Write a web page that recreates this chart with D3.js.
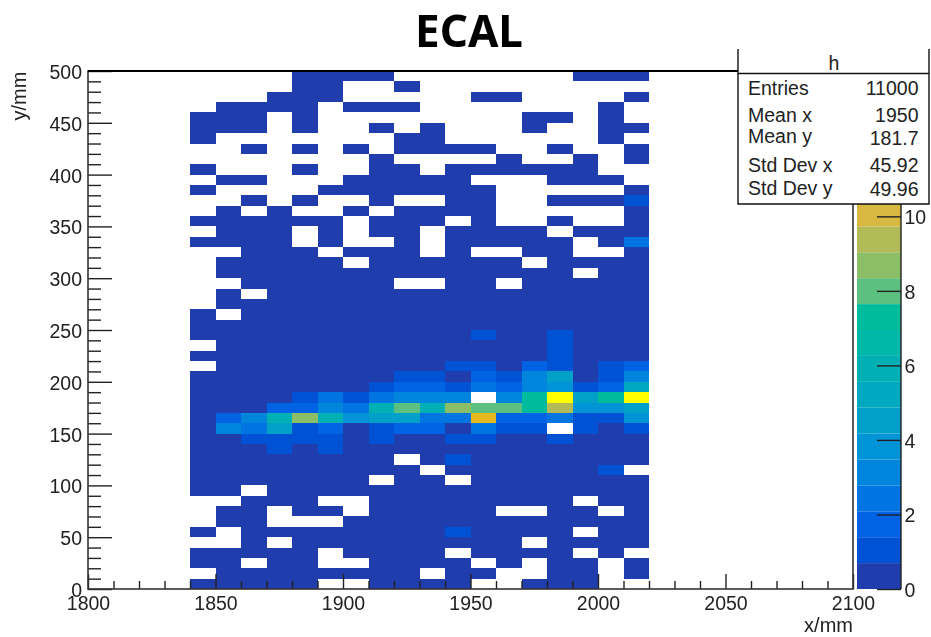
<!DOCTYPE html>
<html><head><meta charset="utf-8">
<script src="https://cdn.jsdelivr.net/npm/d3@7/dist/d3.min.js"></script>
<style>
html,body{margin:0;padding:0;background:#fff;overflow:hidden}
svg{display:block;filter:blur(0.45px)}
text{font-family:"Liberation Sans",sans-serif;fill:#222}
</style></head><body>
<svg id="c" width="931" height="637"></svg>
<script>
const _ = null;
const xEdges = [1840,1850,1860,1870,1880,1890,1900,1910,1920,1930,1940,1950,1960,1970,1980,1990,2000,2010];
const yBinsTop = [490,480,470,460,450,440,430,420,410,400,390,380,370,360,350,340,330,320,310,300,290,280,270,260,250,240,230,220,210,200,190,180,170,160,150,140,130,120,110,100,90,80,70,60,50,40,30,20,10,0];
const rowsUpper = [
[_,_,_,_,.5,.5,.5,.5,_,_,_,_,_,_,_,.5,.5,.5],
[_,_,_,_,.5,.5,_,_,.5,_,_,_,_,_,_,_,_,_],
[_,_,_,.5,.5,.5,_,_,_,_,_,.5,.5,_,_,_,_,.5],
[_,.5,.5,.5,.5,_,.5,.5,.5,_,_,_,_,_,_,_,.5,_],
[.5,.5,.5,_,.5,_,_,_,_,_,_,_,_,.5,.5,_,.5,_],
[.5,.5,.5,_,.5,_,_,.5,_,.5,_,_,_,.5,_,_,.5,.5],
[.5,_,_,_,_,_,_,_,.5,.5,_,_,_,_,_,_,.5,_],
[_,_,.5,_,.5,_,.5,_,.5,.5,.5,.5,_,_,.5,_,_,.5],
[_,_,_,_,_,_,_,.5,_,_,_,_,.5,_,_,.5,_,.5],
[.5,_,_,_,.5,_,_,.5,.5,_,.5,.5,.5,.5,.5,.5,_,_],
[_,.5,.5,_,_,_,.5,.5,.5,.5,.5,_,_,_,.5,.5,.5,_],
[.5,_,_,_,_,.5,.5,.5,.5,.5,.5,.5,_,_,_,_,_,.5],
[_,_,.5,_,.5,_,_,.5,_,_,.5,.5,_,_,.5,.5,.5,1],
[_,.5,_,.5,_,_,.5,_,.5,.5,.5,.5,_,_,_,_,_,.5],
[.5,.5,.5,.5,.5,.5,_,.5,.5,.5,_,.5,_,_,.5,_,_,.5],
[_,.5,.5,.5,_,.5,_,.5,.5,_,.5,.5,.5,.5,_,.5,.5,.5],
[.5,.5,.5,.5,_,.5,_,_,.5,_,.5,.5,.5,.5,.5,_,.5,2.5],
[_,_,.5,.5,.5,_,.5,.5,.5,_,.5,_,_,.5,.5,_,_,.5],
[_,.5,.5,.5,.5,.5,_,.5,.5,.5,.5,.5,.5,_,.5,.5,.5,.5],
[_,.5,.5,.5,.5,.5,.5,.5,.5,.5,.5,.5,.5,.5,.5,_,.5,.5],
[_,_,.5,.5,.5,.5,.5,.5,_,_,.5,.5,_,.5,.5,.5,.5,.5],
[_,.5,_,.5,.5,.5,.5,.5,.5,.5,.5,.5,.5,.5,.5,.5,.5,.5],
[_,.5,.5,.5,.5,.5,.5,.5,.5,.5,.5,.5,.5,.5,.5,.5,.5,.5],
[.5,_,.5,.5,.5,.5,.5,.5,.5,.5,.5,.5,.5,.5,.5,.5,.5,.5],
[.5,.5,.5,.5,.5,.5,.5,.5,.5,.5,.5,.5,.5,.5,.5,.5,.5,.5]
];
const rowsPeak = [
[.5,.5,.5,.5,.5,.5,.5,.5,.5,.5,.5,1,.5,.5,1,.5,.5,.5],
[_,.5,.5,.5,.5,.5,.5,.5,.5,.5,.5,.5,.5,.5,1,.5,.5,.5],
[.5,.5,.5,.5,.5,.5,.5,.5,.5,.5,.5,.5,.5,.5,1,.5,.5,.5],
[_,.5,.5,.5,.5,.5,.5,.5,.5,.5,1,1,.5,2,1,.5,1,2],
[.5,.5,.5,.5,.5,.5,.5,.5,1,1,.5,2,1,3,4.5,.5,1,3],
[.5,.5,.5,.5,.5,.5,.5,1,2,2,1,2.5,2,3,4,1,2,5],
[.5,.5,.5,.5,1,2.5,1,2.5,3,3,3,_,3,7,13.5,4.5,7,13.5],
[.5,.5,.5,2,2,3,2.5,6,8,6,9,8,8,7,9.5,4,4,4.5],
[.5,2,3,6,9,6,4,4.5,4.5,2.5,2.5,11,2,2,2.5,1,1,4],
[.5,3,2.5,4.5,1,2,.5,1,2,2,.5,2.5,1,1,_,1,.5,1],
[.5,.5,1,1,1,1,.5,1,.5,.5,1,1,.5,.5,1,.5,.5,.5],
[.5,.5,.5,1,.5,1,.5,.5,.5,.5,.5,.5,.5,.5,.5,.5,.5,.5]
];
const rowsLower = [
[.5,.5,.5,.5,.5,.5,.5,.5,_,.5,1,.5,.5,.5,.5,.5,.5,.5],
[.5,.5,.5,.5,.5,.5,.5,.5,.5,_,.5,.5,.5,.5,.5,.5,1,_],
[.5,.5,.5,.5,.5,.5,.5,_,.5,.5,_,.5,.5,.5,.5,.5,.5,.5],
[.5,.5,_,.5,.5,.5,.5,.5,.5,.5,.5,.5,.5,.5,.5,.5,.5,.5],
[_,_,.5,.5,.5,_,_,.5,.5,.5,.5,.5,.5,.5,.5,_,.5,.5],
[_,.5,.5,_,.5,.5,_,.5,.5,.5,.5,.5,_,_,.5,.5,_,.5],
[_,.5,.5,_,_,_,.5,.5,.5,.5,.5,.5,.5,.5,.5,.5,.5,.5],
[.5,_,.5,.5,.5,.5,.5,.5,.5,.5,1,.5,.5,.5,.5,_,.5,.5],
[_,_,.5,_,.5,.5,.5,.5,.5,.5,.5,.5,.5,_,.5,.5,.5,.5],
[.5,.5,.5,.5,.5,_,.5,.5,.5,.5,_,.5,.5,.5,.5,_,.5,_],
[.5,.5,_,.5,.5,_,_,.5,.5,.5,.5,_,.5,_,.5,.5,_,.5],
[_,.5,.5,.5,.5,.5,.5,.5,.5,_,.5,.5,_,_,.5,.5,_,.5],
[.5,.5,.5,.5,.5,_,_,.5,.5,.5,.5,_,_,.5,.5,.5,_,_]
];
const cellRows = [...rowsUpper, ...rowsPeak, ...rowsLower];
const paletteColors = ["#1f3dac","#0052d4","#0063e4","#0074e0","#0085dc","#0094d6","#00a0c8","#00a8c0","#00b0b4","#00b8a8","#00bc9c","#5cc080","#8cbe68","#b2bb58","#d8b840","#e8b820","#f0c418","#f8d410","#fce800","#ffff00"];
const xMajor = [1800,1850,1900,1950,2000,2050,2100];
const yMajor = [0,50,100,150,200,250,300,350,400,450,500];
const zTicks = [0,2,4,6,8,10];
const zMax = 13.9;
const statLabels = ["Entries","Mean x","Mean y","Std Dev x","Std Dev y"];
const statValues = ["11000","1950","181.7","45.92","49.96"];
const title = "ECAL";

const svg = d3.select("#c");
const L=88,R=853,T=71,B=589;
const x = d3.scaleLinear().domain([1800,2100]).range([L,R]);
const y = d3.scaleLinear().domain([0,500]).range([B,T]);
const z = d3.scaleLinear().domain([0,zMax]).range([B,T]);
const color = d3.scaleQuantize().domain([0,zMax]).range(paletteColors);

// cells
const cells = cellRows.flatMap((r,i)=>r.map((v,j)=>({v,x0:xEdges[j],y0:yBinsTop[i]}))).filter(d=>d.v!==null);
svg.append("g").selectAll("rect").data(cells).join("rect")
  .attr("x",d=>x(d.x0)).attr("width",d=>x(d.x0+10)-x(d.x0))
  .attr("y",d=>y(d.y0+10)).attr("height",d=>y(d.y0)-y(d.y0+10))
  .attr("fill",d=>color(d.v)).attr("shape-rendering","crispEdges");

// colour bar
const bands = paletteColors.map((c,i)=>({c,lo:i*zMax/paletteColors.length,hi:(i+1)*zMax/paletteColors.length}));
svg.append("g").selectAll("rect").data(bands).join("rect")
  .attr("x",857).attr("width",44).attr("y",d=>z(d.hi)).attr("height",d=>z(d.lo)-z(d.hi)).attr("fill",d=>d.c);

function styleAxis(g){
  g.selectAll("line").attr("stroke","#222").attr("stroke-width",1.4);
  g.selectAll("text").style("font-size","19.5px");
  g.select(".domain").remove();
}
// x axis
const xMinor = d3.range(1800,2101,10).filter(v=>!xMajor.includes(v));
svg.append("g").attr("transform",`translate(0,${B})`)
  .call(d3.axisBottom(x).tickValues(xMinor).tickSize(-8).tickFormat("")).call(styleAxis);
svg.append("g").attr("transform",`translate(0,${B})`)
  .call(d3.axisBottom(x).tickValues(xMajor).tickSize(-15).tickPadding(6).tickFormat(d3.format("d"))).call(styleAxis)
  .selectAll("text").attr("dy",null).attr("y",21);
// y axis
const yMinor = d3.range(0,501,10).filter(v=>!yMajor.includes(v));
svg.append("g").attr("transform",`translate(${L},0)`)
  .call(d3.axisLeft(y).tickValues(yMinor).tickSize(-13).tickFormat("")).call(styleAxis);
svg.append("g").attr("transform",`translate(${L},0)`)
  .call(d3.axisLeft(y).tickValues(yMajor).tickSize(-24).tickPadding(5).tickFormat(d3.format("d"))).call(styleAxis)
  .selectAll("text").attr("x",-6).attr("dy",".38em");
// z axis
svg.append("g").attr("transform","translate(901,0)")
  .call(d3.axisRight(z).tickValues(zTicks).tickSize(-24).tickPadding(4).tickFormat(d3.format("d"))).call(styleAxis)
  .selectAll("text").attr("x",3.5).attr("dy",".38em");

// frames
svg.append("rect").attr("x",L).attr("y",T).attr("width",R-L).attr("height",B-T)
  .attr("fill","none").attr("stroke","#333").attr("stroke-width",1.6);
svg.append("line").attr("x1",L).attr("x2",R+1).attr("y1",T).attr("y2",T).attr("stroke","#000").attr("stroke-width",1.8);
svg.append("line").attr("x1",901).attr("x2",901).attr("y1",T).attr("y2",B).attr("stroke","#222").attr("stroke-width",1.4);

// titles
svg.append("text").attr("x",469).attr("y",47).attr("text-anchor","middle")
  .style("font-family","'Noto Sans',sans-serif").style("font-weight",700).style("font-size","44px").style("fill","#000").text(title);
svg.append("text").attr("x",853).attr("y",632).attr("text-anchor","end").style("font-size","20px").text("x/mm");
svg.append("text").attr("transform","translate(26,120.5) rotate(-90)").attr("text-anchor","start").style("font-size","20px").text("y/mm");

// stats box: no top edge, as in the reference
const sb = svg.append("g");
sb.append("rect").attr("x",738).attr("y",49).attr("width",191).attr("height",155).attr("fill","#fff");
sb.append("path").attr("d","M738,49V204H929V49").attr("fill","none").attr("stroke","#111").attr("stroke-width",1.4);
sb.append("line").attr("x1",738).attr("x2",929).attr("y1",73.5).attr("y2",73.5).attr("stroke","#111").attr("stroke-width",1.4);
sb.append("text").attr("x",834).attr("y",70).attr("text-anchor","middle").style("font-size","19.5px").text("h");
const labelBaselines = [95,121.5,143,171.5,195];
const valueBaselines = [95,121.5,145,172,196];
sb.selectAll("text.l").data(statLabels).join("text").attr("class","l").attr("x",748).attr("y",(d,i)=>labelBaselines[i]).style("font-size","19.5px").text(d=>d);
sb.selectAll("text.v").data(statValues).join("text").attr("class","v").attr("x",918.5).attr("text-anchor","end").attr("y",(d,i)=>valueBaselines[i]).style("font-size","19.5px").text(d=>d);
</script></body></html>
